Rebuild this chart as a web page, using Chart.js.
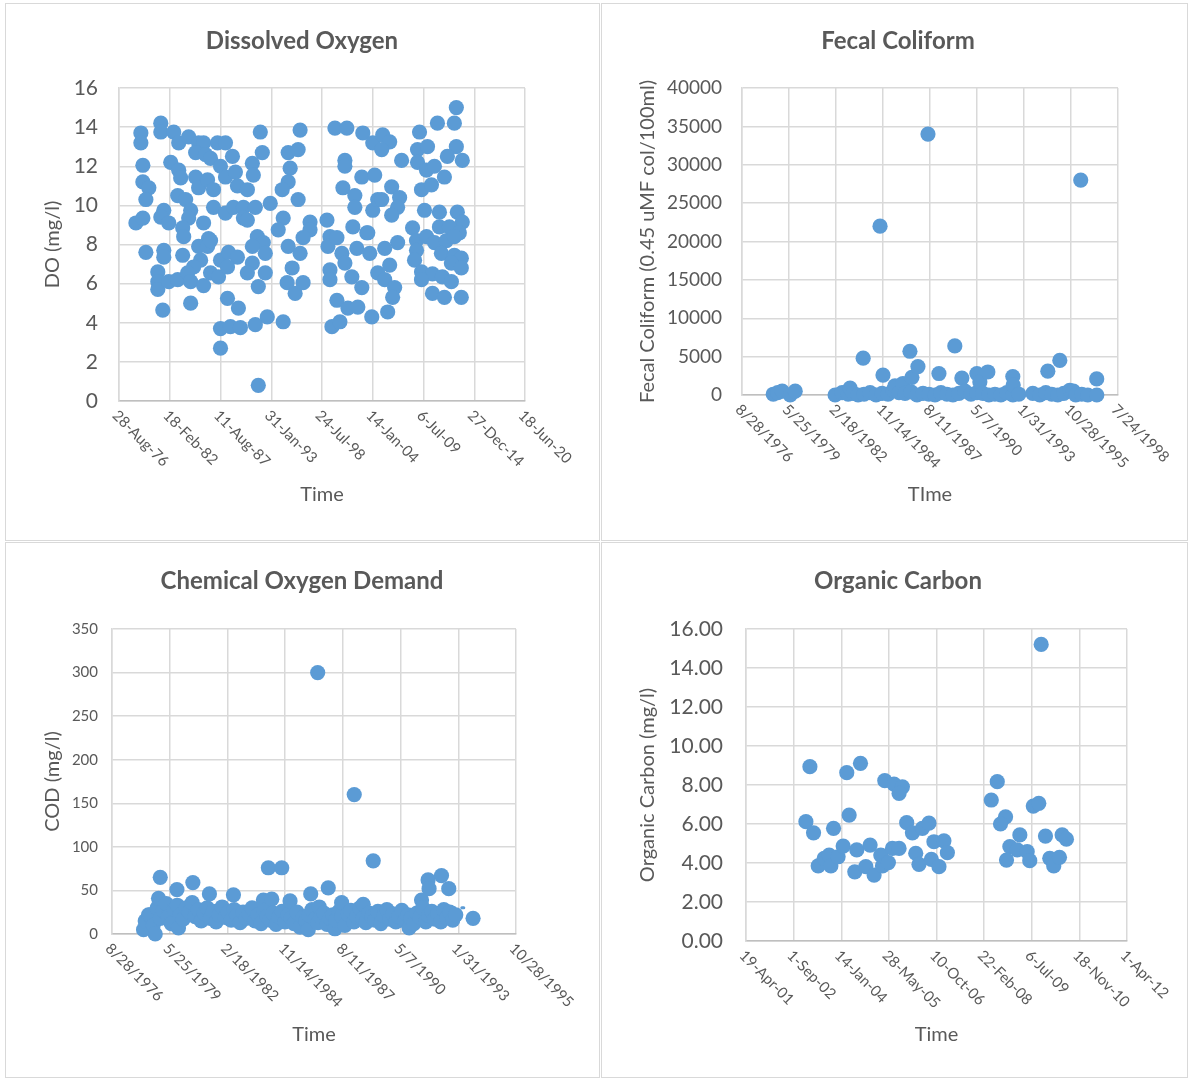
<!doctype html>
<html lang="en">
<head>
<meta charset="utf-8">
<title>Water Quality Scatter Charts</title>
<script src="https://cdn.jsdelivr.net/npm/chart.js"></script>
<style>
  body { margin: 0; background: #fff; }
  .panel { position: absolute; border: 1px solid #d9d9d9; box-sizing: border-box; background: #fff; }
  .panel canvas { display: block; }
</style>
</head>
<body>
<div class="panel" style="left:5px;top:3px;width:595px;height:538px"><canvas id="doChart" width="593" height="536"></canvas></div>
<div class="panel" style="left:601px;top:3px;width:587px;height:538px"><canvas id="fcChart" width="585" height="536"></canvas></div>
<div class="panel" style="left:5px;top:542px;width:595px;height:536px"><canvas id="codChart" width="593" height="534"></canvas></div>
<div class="panel" style="left:601px;top:542px;width:587px;height:536px"><canvas id="ocChart" width="585" height="534"></canvas></div>
<script>
// dates are Excel day serials (28000 = 28-Aug-1976)
const doDates = [
  28862, 28862, 29647, 29647, 30157, 30353, 30745, 31137, 31333, 31020, 31412, 31608, 31882, 32196, 32471, 32000,
  32196, 32588, 32667, 28941, 30039, 30353, 30431, 28941, 29176, 29059, 31020, 31137, 31490, 31725, 31725, 32196,
  32510, 32902, 32902, 30314, 30627, 29765, 29647, 29961, 30824, 30745, 30510, 30549, 28667, 28941, 31333, 31529,
  29059, 29765, 29765, 30510, 31137, 31490, 31608, 31216, 30941, 32000, 32314, 32667, 29529, 29529, 29529, 29961,
  30314, 30706, 30824, 31333, 31608, 31922, 32275, 29725, 30824, 32275, 32706, 32000, 32392, 32784, 32000,
  33569, 35137, 33647, 34667, 35059, 33255, 33294, 34745, 34667, 34431, 35059, 33059, 33373, 33961, 33059, 34471,
  34275, 35529, 35529, 35255, 36196, 33451, 33686, 33765, 33255, 33255, 33765, 33490, 34667, 35137, 34824, 34627,
  34941, 35255, 33059, 33843, 33373, 34471, 33490, 36314, 36235, 36588, 36784, 37216, 37373, 37765, 37882, 36314,
  36314, 36588, 36902, 37176, 37569, 37020, 37412, 37961, 36392, 36706, 36510, 36980, 37608, 38000, 36902, 36902,
  37569, 38078, 36824, 37294, 37294, 38000, 38196, 37804, 38196,
  38392, 38667, 38353, 39137, 39843, 40549, 41216, 41294, 39765, 40157, 41294, 40941, 41529, 39765, 40118, 40431,
  40824, 39922, 40314, 38745, 38353, 39059, 38980, 38745, 40039, 40627, 41333, 41529, 39569, 40627, 41020, 41412,
  38980, 38471, 39725, 40118, 40431, 39725, 40902, 41216, 40706, 41216, 41490, 39647, 41098, 41490, 38667, 39922,
  40353, 40745, 39922, 41098, 38471, 38863, 38784, 38588, 40353, 40824, 41490
];
const doValues = [
  13.7, 13.2, 14.2, 13.75, 13.75, 13.2, 13.5, 13.2, 13.2, 12.7, 12.6, 12.4, 13.2, 13.2, 12.5, 12.0,
  11.45, 11.7, 11.0, 12.05, 12.2, 11.8, 11.4, 11.2, 10.9, 10.3, 11.45, 10.9, 11.3, 10.8, 9.9, 9.6,
  9.9, 9.9, 9.35, 10.5, 10.3, 9.75, 9.4, 9.1, 9.75, 9.35, 8.85, 8.4, 9.1, 9.35, 9.1, 8.3,
  7.6, 7.7, 7.35, 7.45, 7.9, 7.9, 8.2, 7.2, 6.85, 7.2, 7.6, 7.35, 6.6, 6.1, 5.7, 6.1,
  6.2, 6.55, 6.1, 5.9, 6.55, 6.35, 6.85, 4.65, 5.0, 5.25, 4.75, 3.7, 3.8, 3.75, 2.7,
  13.75, 13.85, 12.7, 12.7, 12.85, 12.15, 11.55, 11.9, 11.2, 10.8, 10.3, 10.8, 9.9, 10.1, 9.25, 9.35,
  8.75, 9.15, 8.75, 8.35, 9.25, 8.4, 8.1, 7.55, 7.9, 7.05, 6.55, 5.85, 7.9, 7.55, 6.8, 6.05,
  5.5, 6.05, 6.55, 4.3, 3.9, 4.05, 0.8, 8.4, 7.9, 8.35, 7.55, 8.9, 7.8, 8.6, 7.55, 6.7,
  6.2, 5.15, 7.05, 6.35, 5.8, 4.75, 4.8, 4.3, 3.8, 4.05, 13.95, 13.95, 13.7, 13.2, 12.3, 12.0,
  11.45, 11.55, 10.9, 10.5, 9.9, 9.75, 10.3, 8.6, 6.55,
  13.6, 13.25, 12.85, 12.3, 13.75, 14.2, 14.2, 15.0, 12.85, 13.0, 13.0, 12.5, 12.3, 12.2, 11.8, 12.0,
  11.45, 10.8, 11.05, 10.95, 10.3, 10.4, 9.9, 9.5, 9.75, 9.65, 9.65, 9.15, 8.85, 8.9, 8.9, 8.6,
  8.1, 7.8, 8.2, 8.4, 8.1, 7.7, 8.2, 8.4, 7.55, 7.45, 7.3, 7.2, 7.05, 6.8, 6.95, 6.6,
  6.5, 6.35, 6.2, 6.1, 6.2, 5.8, 5.3, 4.55, 5.5, 5.3, 5.3
];

const fcDates = [
  28665, 28760, 28855, 29026, 29132, 29981, 30130, 30258, 30300, 30364, 30470, 30578, 30597, 30725, 30852, 30937,
  30980, 31000, 31107, 31214, 31255, 31341, 31424, 31469, 31573, 31596, 31615, 31724, 31743, 31851, 31957, 31978,
  32106, 32190, 32233, 32361, 32488, 32528, 32616, 32678, 32743, 32871, 32997, 32998, 33061, 33126, 33231, 33253,
  33381, 33508, 33635, 33762, 33763, 33770, 33890, 34187, 34336, 34464, 34507, 34591, 34718, 34762, 34846, 34973,
  35050, 35101, 35207, 35228, 35356, 35547, 35549
];
const fcValues = [
  100, 300, 500, 0, 500, 0, 300, 100, 900, 200, 0, 4800, 100, 300, 0, 22000,
  200, 2600, 100, 600, 1200, 300, 1500, 200, 5700, 400, 2300, 0, 3700, 200, 34000, 100,
  0, 2800, 300, 100, 0, 6400, 200, 2200, 500, 100, 2800, 300, 1700, 200, 3000, 0,
  100, 0, 300, 2400, 0, 1300, 100, 200, 0, 300, 3100, 100, 0, 4500, 200, 600,
  500, 0, 28000, 100, 0, 2100, 0
];

const codDates = [
  28547, 28576, 28633, 28663, 28714, 28749, 28784, 28806, 28836, 28836, 28887, 28939, 28974, 29026, 29078, 29125,
  29130, 29152, 29182, 29233, 29285, 29337, 29389, 29401, 29441, 29493, 29545, 29597, 29649, 29688, 29701, 29752,
  29804, 29856, 29908, 29960, 30012, 30064, 30104, 30116, 30168, 30220, 30271, 30323, 30375, 30427, 30479, 30531,
  30583, 30623, 30635, 30687, 30709, 30739, 30768, 30790, 30842, 30894, 30941, 30946, 30998, 31050, 31085, 31102,
  31154, 31206, 31258, 31309, 31361, 31401, 31413, 31443, 31465, 31517, 31564, 31569, 31591, 31621, 31673, 31725,
  31747, 31777, 31828, 31863, 31880, 31932, 31979, 31984, 32036, 32088, 32140, 32192, 32197, 32244, 32296, 32347,
  32353, 32399, 32451, 32503, 32526, 32555, 32607, 32659, 32711, 32763, 32815, 32866, 32918, 32970, 33022, 33074,
  33126, 33149, 33178, 33230, 33282, 33334, 33363, 33385, 33437, 33477, 33489, 33494, 33541, 33593, 33645, 33697,
  33709, 33749, 33801, 33835, 33853, 33904, 33956, 34256
];
const codValues = [
  5, 15, 22, 22, 10, 0, 30, 41, 65, 18, 27, 35, 20, 12, 28, 51,
  33, 7, 22, 17, 30, 25, 36, 59, 20, 28, 15, 24, 30, 46, 18, 26,
  14, 22, 31, 19, 25, 16, 45, 28, 21, 13, 25, 18, 23, 30, 15, 22,
  12, 39, 27, 20, 76, 16, 40, 24, 11, 20, 76, 26, 14, 22, 38, 18,
  12, 25, 8, 19, 15, 5, 22, 46, 28, 17, 300, 13, 31, 20, 24, 11,
  53, 18, 22, 6, 16, 26, 36, 20, 10, 23, 27, 14, 160, 20, 30, 18,
  34, 13, 24, 20, 84, 16, 26, 12, 21, 28, 17, 23, 14, 20, 27, 15,
  22, 7, 18, 12, 24, 19, 39, 30, 14, 62, 21, 52, 26, 17, 23, 14,
  67, 28, 19, 52, 25, 16, 22, 18
];
// short dotted segment visible at the right end of the COD cluster
const codDotDates = [33905, 34200];
const codDotValues = [30, 30];

const ocDates = [
  37671, 38058, 38202, 38457, 38554, 38642, 38607, 37629, 37709, 37919, 38083, 37758, 37821, 37873, 37891, 37967,
  38020, 38163, 38142, 38258, 38303, 38345, 38415, 38433, 38495, 38537, 38607, 38687, 38747, 38852, 38921, 38782,
  38816, 38946, 39026, 38973, 39078, 39114, 39638, 39575, 39725, 39672, 39875, 39770, 39847, 39952, 39979, 39735,
  40016, 40074, 40099, 40144, 40319, 40364, 40189, 40231, 40291
];
const ocValues = [
  8.94, 8.63, 9.11, 8.22, 8.05, 7.91, 7.57, 6.12, 5.55, 5.78, 6.46, 3.85, 4.24, 4.41, 3.85, 4.32,
  4.87, 4.67, 3.55, 3.81, 4.92, 3.38, 4.41, 3.85, 4.02, 4.75, 4.75, 6.07, 5.55, 5.78, 6.04, 4.5,
  3.93, 4.19, 3.81, 5.09, 5.14, 4.53, 8.17, 7.23, 6.37, 6.0, 5.44, 4.84, 4.67, 4.58, 4.12, 4.15,
  6.92, 7.06, 15.21, 5.38, 5.44, 5.22, 4.24, 3.85, 4.29
];

const MON = ['Jan', 'Feb', 'Mar', 'Apr', 'May', 'Jun', 'Jul', 'Aug', 'Sep', 'Oct', 'Nov', 'Dec'];
const BLUE = '#5b9bd5';
const TEXT = '#595959';
const GRID = '#d9d9d9';
const FONT = 'Lato, "Open Sans", sans-serif';

function serialToDate(s) {
  return new Date(Date.UTC(1899, 11, 30) + s * 86400000);
}
function fmtDMY(s) {
  const d = serialToDate(s);
  return d.getUTCDate() + '-' + MON[d.getUTCMonth()] + '-' + String(d.getUTCFullYear()).slice(-2);
}
function fmtMDY(s) {
  const d = serialToDate(s);
  return (d.getUTCMonth() + 1) + '/' + d.getUTCDate() + '/' + d.getUTCFullYear();
}

function toPoints(xs, ys) {
  return xs.map((x, i) => ({ x: x, y: ys[i] }));
}

// draws chart title and the clockwise-rotated date labels the way Excel does
function excelText(title, titleX, titleY) {
  return {
    id: 'excelText',
    afterDraw(chart) {
      const ctx = chart.ctx;
      const xs = chart.scales.x;
      ctx.save();
      ctx.fillStyle = TEXT;
      ctx.font = 'bold 24px ' + FONT;
      ctx.textAlign = 'center';
      ctx.textBaseline = 'middle';
      ctx.fillText(title, titleX, titleY);

      ctx.font = '15px ' + FONT;
      ctx.textAlign = 'left';
      xs.ticks.forEach(t => {
        const px = xs.getPixelForValue(t.value);
        ctx.save();
        ctx.translate(px - 4, xs.top + 12);
        ctx.rotate(Math.PI / 4);
        ctx.fillText(t.label, 0, 0);
        ctx.restore();
      });
      ctx.restore();
    }
  };
}

function makeChart(id, g) {
  const datasets = [{
    data: toPoints(g.xs, g.ys),
    pointRadius: 7.6,
    pointBackgroundColor: BLUE,
    pointBorderWidth: 0,
    showLine: false,
    clip: false
  }];
  if (g.extra) datasets.push(g.extra);

  return new Chart(document.getElementById(id), {
    type: 'scatter',
    data: { datasets: datasets },
    options: {
      responsive: false,
      animation: false,
      events: [],
      layout: { padding: { top: g.top, right: g.right, left: 0, bottom: 0 } },
      plugins: { legend: { display: false }, tooltip: { enabled: false } },
      scales: {
        x: {
          type: 'linear',
          min: g.xMin, max: g.xMax,
          ticks: { display: false, stepSize: g.xStep, callback: v => g.xFmt(v) },
          grid: { color: GRID, lineWidth: 1.5, drawTicks: false },
          border: { color: '#bfbfbf', width: 1.5 },
          title: {
            display: true, text: g.xTitle, color: TEXT,
            font: { family: FONT, size: 20 }, padding: { top: 0, bottom: g.xTitlePad }
          },
          afterFit: s => { s.height = g.xHeight; }
        },
        y: {
          min: g.yMin, max: g.yMax,
          ticks: {
            stepSize: g.yStep, color: TEXT, padding: g.yTickPad,
            font: { family: FONT, size: g.yTickSize },
            callback: v => g.yFmt(v)
          },
          grid: { color: GRID, lineWidth: 1.5, drawTicks: false },
          border: { color: GRID, width: 1.5 },
          title: {
            display: true, text: g.yTitle, color: TEXT,
            font: { family: FONT, size: 20 }, padding: { top: g.yTitlePad, bottom: 0 }
          },
          afterFit: s => { s.width = g.yWidth; }
        }
      }
    },
    plugins: [excelText(g.title, g.titleX, g.titleY)]
  });
}

makeChart('doChart', {
  xs: doDates, ys: doValues, title: 'Dissolved Oxygen', titleX: 296, titleY: 37,
  top: 84, right: 74, xHeight: 139, yWidth: 113,
  xMin: 28000, xMax: 44000, xStep: 2000, xFmt: fmtDMY, xTitle: 'Time', xTitlePad: 33,
  yMin: 0, yMax: 16, yStep: 2, yFmt: v => String(v), yTitle: 'DO (mg/l)', yTitlePad: 35,
  yTickSize: 21, yTickPad: 21
});

makeChart('fcChart', {
  xs: fcDates, ys: fcValues, title: 'Fecal Coliform', titleX: 296, titleY: 37,
  top: 84, right: 69, xHeight: 145, yWidth: 140,
  xMin: 28000, xMax: 36000, xStep: 1000, xFmt: fmtMDY, xTitle: 'TIme', xTitlePad: 33,
  yMin: 0, yMax: 40000, yStep: 5000, yFmt: v => String(v),
  yTitle: 'Fecal Coliform (0.45 uMF col/100ml)', yTitlePad: 34,
  yTickSize: 19, yTickPad: 20
});

makeChart('codChart', {
  xs: codDates, ys: codValues, title: 'Chemical Oxygen Demand', titleX: 296, titleY: 38,
  top: 86, right: 83, xHeight: 143, yWidth: 106,
  xMin: 28000, xMax: 35000, xStep: 1000, xFmt: fmtMDY, xTitle: 'Time', xTitlePad: 30,
  yMin: 0, yMax: 350, yStep: 50, yFmt: v => String(v), yTitle: 'COD (mg/l)', yTitlePad: 35,
  yTickSize: 15, yTickPad: 14,
  extra: {
    type: 'line',
    data: toPoints(codDotDates, codDotValues),
    borderColor: BLUE, borderWidth: 3, borderDash: [2, 7], borderCapStyle: 'round',
    pointRadius: 0, fill: false
  }
});

makeChart('ocChart', {
  xs: ocDates, ys: ocValues, title: 'Organic Carbon', titleX: 296, titleY: 38,
  top: 86, right: 60, xHeight: 136, yWidth: 144,
  xMin: 37000, xMax: 41000, xStep: 500, xFmt: fmtDMY, xTitle: 'Time', xTitlePad: 30,
  yMin: 0, yMax: 16, yStep: 2, yFmt: v => v.toFixed(2), yTitle: 'Organic Carbon (mg/l)', yTitlePad: 34,
  yTickSize: 21, yTickPad: 23
});
</script>
</body>
</html>
